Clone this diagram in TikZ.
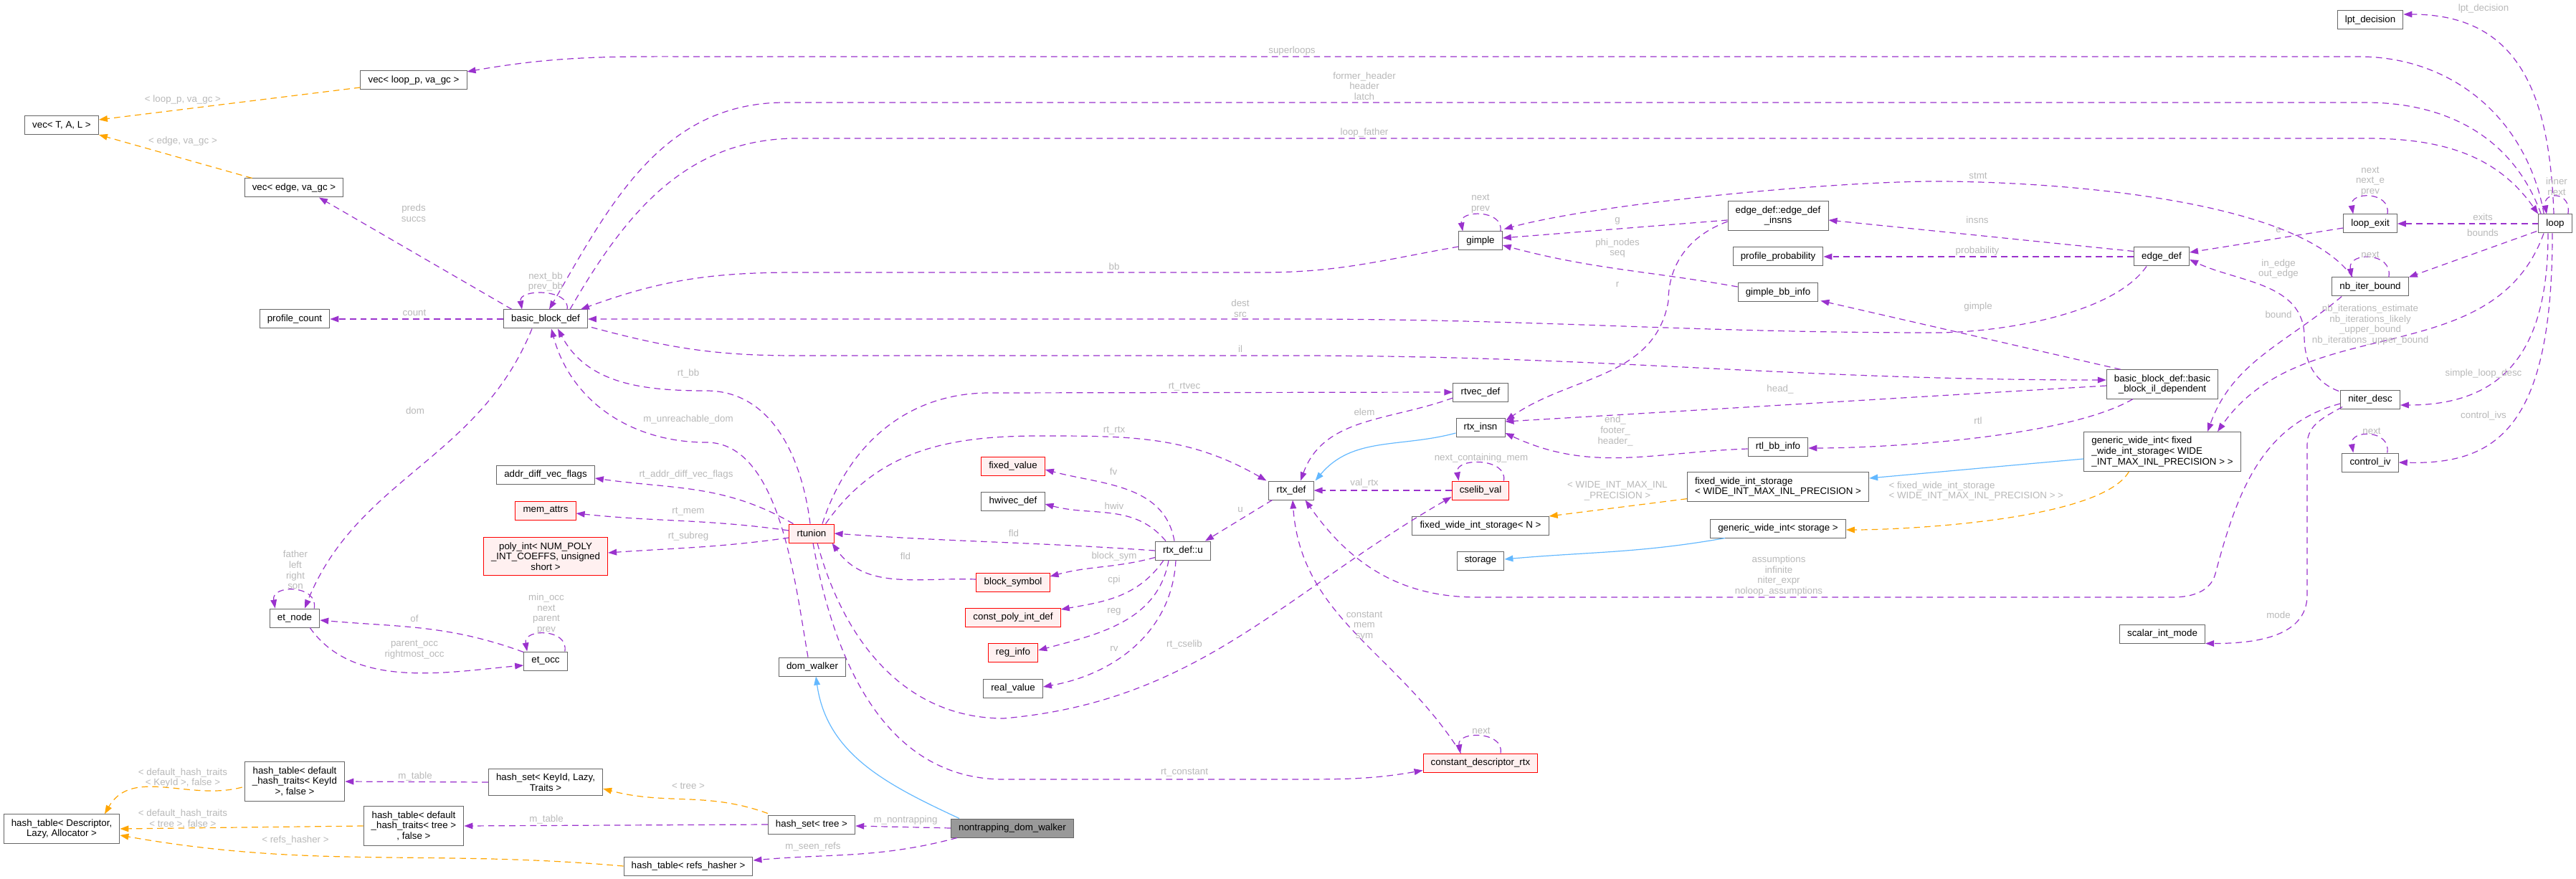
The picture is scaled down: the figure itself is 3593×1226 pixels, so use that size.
\documentclass[tikz,border=0pt]{standalone}
\usepackage{fontspec}
\setmainfont{Liberation Sans}
\usetikzlibrary{arrows.meta, positioning, calc}

\definecolor{memcol}{HTML}{9A32CD}
\definecolor{tplcol}{HTML}{FFA500}
\definecolor{inhcol}{HTML}{63B8FF}
\definecolor{nodegray}{HTML}{666666}
\definecolor{lblgray}{HTML}{B8B8B8}
\definecolor{redfill}{HTML}{FFF0F0}
\definecolor{rootgray}{HTML}{999999}

\begin{document}
\begin{tikzpicture}[x=0.75pt, y=0.75pt,
        cls/.style={draw=nodegray, fill=white, line width=0.75pt, minimum height=19.5pt,
            inner xsep=8pt, inner ysep=5pt, align=center, font=\fontsize{10}{11}\selectfont},
        redcls/.style={cls, draw=red, fill=redfill},
        rootcls/.style={cls, fill=rootgray},
        lbl/.style={text=lblgray, inner sep=0pt, align=center, font=\fontsize{10}{11}\selectfont},
        mem/.style={draw=memcol, line width=0.9pt, dash pattern=on 6.5pt off 4.5pt,
            -{Triangle[length=9pt, width=6.5pt]}},
        tpl/.style={mem, draw=tplcol},
        inh/.style={draw=inhcol, line width=0.9pt, -{Triangle[length=9pt, width=6.5pt]}},
    ]
    \useasboundingbox (0,0) rectangle (3593,-1226);

    % classes
    \node[cls] (vec_TAL) at (86,-175) {vec< T, A, L >};
    \node[cls] (vec_loop) at (577,-112) {vec< loop\_p, va\_gc >};
    \node[cls] (vec_edge) at (410,-262) {vec< edge, va\_gc >};
    \node[cls] (profile_count) at (411,-445) {profile\_count};
    \node[cls] (basic_block_def) at (761,-445) {basic\_block\_def};
    \node[cls] (addr_diff) at (761,-662) {addr\_diff\_vec\_flags};
    \node[redcls] (mem_attrs) at (761,-712) {mem\_attrs};
    \node[redcls] (poly_int) at (761,-776) {poly\_int< NUM\_POLY\\\_INT\_COEFFS, unsigned\\short >};
    \node[cls] (et_node) at (411,-862) {et\_node};
    \node[cls] (et_occ) at (761,-922) {et\_occ};
    \node[cls] (hash_table_Desc) at (86,-1156) {hash\_table< Descriptor,\\Lazy, Allocator >};
    \node[cls] (hash_table_KeyId) at (411,-1090) {hash\_table< default\\\_hash\_traits< KeyId\\>, false >};
    \node[cls] (hash_set_KeyId) at (761,-1091) {hash\_set< KeyId, Lazy,\\Traits >};
    \node[cls] (hash_table_tree) at (577,-1152) {hash\_table< default\\\_hash\_traits< tree >\\, false >};
    \node[cls] (hash_table_refs) at (960,-1208) {hash\_table< refs\_hasher >};
    \node[cls] (dom_walker) at (1133,-930) {dom\_walker};
    \node[cls] (hash_set_tree) at (1132,-1150) {hash\_set< tree >};
    \node[rootcls] (nontrapping) at (1412,-1155) {nontrapping\_dom\_walker};
    \node[redcls] (rtunion) at (1132,-744) {rtunion};
    \node[redcls] (fixed_value) at (1413,-650) {fixed\_value};
    \node[cls] (hwivec_def) at (1413,-699) {hwivec\_def};
    \node[redcls] (block_symbol) at (1413,-812) {block\_symbol};
    \node[redcls] (const_poly) at (1413,-861) {const\_poly\_int\_def};
    \node[redcls] (reg_info) at (1413,-910) {reg\_info};
    \node[cls] (real_value) at (1413,-960) {real\_value};
    \node[cls] (rtx_def_u) at (1650,-768) {rtx\_def::u};
    \node[cls] (rtx_def) at (1801,-684) {rtx\_def};
    \node[cls] (rtvec_def) at (2065,-547) {rtvec\_def};
    \node[cls] (rtx_insn) at (2065,-596) {rtx\_insn};
    \node[redcls] (cselib_val) at (2065,-684) {cselib\_val};
    \node[cls] (fws_N) at (2065,-733) {fixed\_wide\_int\_storage< N >};
    \node[cls] (storage) at (2065,-782) {storage};
    \node[redcls] (constant_descriptor_rtx) at (2065,-1064) {constant\_descriptor\_rtx};
    \node[cls] (gimple) at (2065,-336) {gimple};
    \node[cls] (edge_def_insns) at (2480,-301) {edge\_def::edge\_def\\\_insns};
    \node[cls] (profile_probability) at (2480,-358) {profile\_probability};
    \node[cls] (gimple_bb_info) at (2480,-408) {gimple\_bb\_info};
    \node[cls] (rtl_bb_info) at (2480,-623) {rtl\_bb\_info};
    \node[cls, align=left] (fws_WIDE) at (2480,-679) {fixed\_wide\_int\_storage\\< WIDE\_INT\_MAX\_INL\_PRECISION >};
    \node[cls] (gwi_storage) at (2480,-737) {generic\_wide\_int< storage >};
    \node[cls] (bbil) at (3016,-536) {basic\_block\_def::basic\\\_block\_il\_dependent};
    \node[cls, align=left] (gwi_fixed) at (3016,-630) {generic\_wide\_int< fixed\\\_wide\_int\_storage< WIDE\\\_INT\_MAX\_INL\_PRECISION > >};
    \node[cls] (scalar_int_mode) at (3016,-884) {scalar\_int\_mode};
    \node[cls] (edge_def) at (3015,-358) {edge\_def};
    \node[cls] (lpt_decision) at (3306,-28) {lpt\_decision};
    \node[cls] (loop_exit) at (3306,-312) {loop\_exit};
    \node[cls] (nb_iter_bound) at (3306,-400) {nb\_iter\_bound};
    \node[cls] (niter_desc) at (3306,-557) {niter\_desc};
    \node[cls] (control_iv) at (3306,-645) {control\_iv};
    \node[cls] (loop) at (3564,-312) {loop};

    % loop
    \draw[mem] ($(loop.north west)+(8,0)$) to[out=100,in=0] (3290,-79) -- (1000,-79) to[out=180,in=10] ($(vec_loop.east)+(0,12)$)
        node[lbl, at={(1802,-71)}] (l_superloops) {superloops};
    \draw[mem] ($(loop.north west)+(4,0)$) to[out=110,in=0] (3300,-143) -- (1095,-143) to[out=180,in=60] ($(basic_block_def.north)+(5,0)$)
        node[lbl, at={(1903,-120)}] (l_header) {former\_header\\header\\latch};
    \draw[mem] ($(basic_block_def.north east)+(-25,0)$) to[out=60,in=180] (1112,-193) -- (3300,-193) to[out=0,in=125] (loop.north west)
        node[lbl, at={(1903,-185)}] (l_loopfather) {loop\_father};
    \draw[mem] ($(loop.north)+(-2,0)$) to[out=92,in=0,looseness=1.2] ($(lpt_decision.east)+(0,8)$)
        node[lbl, at={(3464,-12)}] (l_lpt) {lpt\_decision};
    \draw[mem] ($(loop.north east)+(-6,0)$) to[out=80,in=100,looseness=2.8] ($(loop.north)+(-12,0)$)
        node[lbl, at={(3566,-260)}] (l_inner) {inner\\next};
    \draw[mem] (loop.west) -- (loop_exit.east)
        node[lbl, at={(3463,-303)}] (l_exits) {exits};
    \draw[mem] ($(loop.south west)+(-2,3)$) -- (nb_iter_bound.north east)
        node[lbl, at={(3463,-325)}] (l_bounds) {bounds};
    \draw[mem] ($(loop.south)+(-16,0)$) to[out=-110,in=55] ($(gwi_fixed.north)+(77,0)$)
        node[lbl, at={(3306,-453)}] (l_nbiter) {nb\_iterations\_estimate\\nb\_iterations\_likely\\\_upper\_bound\\nb\_iterations\_upper\_bound};
    \draw[mem] ($(loop.south)+(-10,0)$) .. controls (3554,-480) and (3500,-565) .. ($(niter_desc.east)+(0,-8)$)
        node[lbl, at={(3464,-521)}] (l_simple) {simple\_loop\_desc};
    \draw[mem] ($(loop.south)+(-4,0)$) .. controls (3560,-600) and (3480,-648) .. (control_iv.east)
        node[lbl, at={(3464,-580)}] (l_civ) {control\_ivs};

    % loop_exit, nb_iter_bound, niter_desc, control_iv
    \draw[mem] ($(loop_exit.north east)+(-14,0)$) to[out=80,in=100,looseness=1.75] ($(loop_exit.north west)+(14,0)$)
        node[lbl, at={(3306,-253)}] (l_lexit) {next\\next\_e\\prev};
    \draw[mem] ($(loop_exit.west)+(0,-6)$) -- ($(edge_def.east)+(0,6)$)
        node[lbl, at={(3178,-321)}] (l_e) {e};
    \draw[mem] ($(nb_iter_bound.north east)+(-28,0)$) to[out=80,in=100,looseness=1.8] ($(nb_iter_bound.north west)+(28,0)$)
        node[lbl, at={(3306,-355)}] (l_nbnext) {next};
    \draw[mem] ($(nb_iter_bound.north west)+(29,0)$) to[out=125,in=0,looseness=0.6] (2700,-253) to[out=180,in=15,looseness=0.6] ($(gimple.north east)+(2,3)$)
        node[lbl, at={(2759,-245)}] (l_stmt) {stmt};
    \draw[mem] ($(nb_iter_bound.south west)+(14,0)$) to[out=-140,in=70] ($(gwi_fixed.north)+(63,0)$)
        node[lbl, at={(3178,-439)}] (l_bound) {bound};
    \draw[mem] ($(niter_desc.north west)+(-2,-2)$) to[out=160,in=-90] (3214,-470) to[out=90,in=-25] ($(edge_def.east)+(0,-4)$)
        node[lbl, at={(3178,-375)}] (l_inedge) {in\_edge\\out\_edge};
    \draw[mem] ($(niter_desc.west)+(0,-6)$) to[out=195,in=75] (3090,-800) to[out=-105,in=0] (3030,-833) -- (2060,-833) to[out=180,in=-55] ($(rtx_def.south east)+(-12,0)$)
        node[lbl, at={(2481,-803)}] (l_assum) {assumptions\\infinite\\niter\_expr\\noloop\_assumptions};
    \draw[mem] ($(niter_desc.south west)+(3,3)$) to[out=210,in=90] (3218,-620) -- (3218,-830) to[out=-90,in=0] (scalar_int_mode.south east)
        node[lbl, at={(3178,-858)}] (l_mode) {mode};
    \draw[mem] ($(control_iv.north east)+(-16,0)$) to[out=80,in=100,looseness=1.8] ($(control_iv.north west)+(16,0)$)
        node[lbl, at={(3308,-601)}] (l_civnext) {next};

    % edge_def
    \draw[mem] ($(edge_def.north west)+(0,-6)$) -- ($(edge_def_insns.east)+(0,-6)$)
        node[lbl, at={(2758,-307)}] (l_insns) {insns};
    \draw[mem] (edge_def.west) -- (profile_probability.east)
        node[lbl, at={(2758,-350)}] (l_prob) {probability};
    \draw[mem] ($(edge_def.south west)+(18,0)$) to[out=-125,in=0,looseness=0.7] (2700,-464) to[out=180,in=0] (1800,-445) -- (basic_block_def.east)
        node[lbl, at={(1730,-430)}] (l_dest) {dest\\src};

    % gimple and friends
    \draw[mem] ($(gimple.north east)+(-3,0)$) to[out=80,in=100,looseness=1.5] ($(gimple.north west)+(6,0)$)
        node[lbl, at={(2065,-284)}] (l_gnext) {next\\prev};
    \draw[mem] ($(gimple.west)+(0,-8)$) to[out=190,in=0] (1760,-380) -- (1110,-380) to[out=180,in=20] ($(basic_block_def.north east)+(-10,0)$)
        node[lbl, at={(1554,-372)}] (l_bb) {bb};
    \draw[mem] ($(edge_def_insns.west)+(0,-6)$) -- ($(gimple.east)+(0,4)$)
        node[lbl, at={(2256,-308)}] (l_g) {g};
    \draw[mem] ($(edge_def_insns.west)+(0,-8)$) to[out=200,in=90] (2327,-420) to[out=-100,in=35] ($(rtx_insn.north east)+(1,-4)$)
        node[lbl, at={(2256,-397)}] (l_r) {r};
    \draw[mem] ($(gimple_bb_info.west)+(0,8)$) to[out=170,in=-15] ($(gimple.east)+(0,-6)$)
        node[lbl, at={(2256,-346)}] (l_phi) {phi\_nodes\\seq};

    % basic_block_def::basic_block_il_dependent
    \draw[mem] ($(bbil.north west)+(20,0)$) -- ($(gimple_bb_info.south east)+(3,2)$)
        node[lbl, at={(2759,-428)}] (l_gimple) {gimple};
    \draw[mem] ($(bbil.west)+(0,-2)$) -- ($(rtx_insn.east)+(0,8)$)
        node[lbl, at={(2483,-543)}] (l_head) {head\_};
    \draw[mem] ($(bbil.south west)+(37,0)$) to[out=-150,in=0,looseness=0.6] ($(rtl_bb_info.east)+(0,-2)$)
        node[lbl, at={(2759,-587)}] (l_rtl) {rtl};
    \draw[mem] ($(rtl_bb_info.west)+(0,-3)$) to[out=182,in=-25] ($(rtx_insn.east)+(0,-8)$)
        node[lbl, at={(2253,-601)}] (l_end) {end\_\\footer\_\\header\_};

    % basic_block_def
    \draw[mem] ($(basic_block_def.south east)+(5,2)$) to[out=-15,in=180] (1110,-496) -- (1800,-496) to[out=0,in=180] ($(bbil.west)+(0,6)$)
        node[lbl, at={(1730,-487)}] (l_il) {il};
    \draw[mem] ($(basic_block_def.north)+(30,0)$) to[out=80,in=100,looseness=1.2] ($(basic_block_def.north west)+(26,0)$)
        node[lbl, at={(761,-393)}] (l_nextbb) {next\_bb\\prev\_bb};
    \draw[mem] ($(basic_block_def.north west)+(12,0)$) -- ($(vec_edge.south)+(35,0)$)
        node[lbl, at={(577,-297)}] (l_preds) {preds\\succs};
    \draw[mem] (basic_block_def.west) -- (profile_count.east)
        node[lbl, at={(578,-436)}] (l_count) {count};
    \draw[mem] ($(basic_block_def.south west)+(40,0)$) to[out=-112,in=68] ($(et_node.north)+(14,0)$)
        node[lbl, at={(579,-573)}] (l_dom) {dom};

    % et_node, et_occ
    \draw[mem] ($(et_node.north east)+(-8,0)$) to[out=80,in=100,looseness=1.6] ($(et_node.north west)+(8,0)$)
        node[lbl, at={(412,-795)}] (l_father) {father\\left\\right\\son};
    \draw[mem] ($(et_node.south east)+(-14,0)$) to[out=-55,in=185,looseness=0.9] ($(et_occ.west)+(0,-6)$)
        node[lbl, at={(578,-906)}] (l_parent) {parent\_occ\\rightmost\_occ};
    \draw[mem] ($(et_occ.north west)+(0,-1)$) to[out=160,in=-5] ($(et_node.east)+(0,-3)$)
        node[lbl, at={(578,-863)}] (l_of) {of};
    \draw[mem] ($(et_occ.north east)+(-4,0)$) to[out=80,in=100,looseness=1.6] ($(et_occ.north west)+(5,0)$)
        node[lbl, at={(762,-856)}] (l_minocc) {min\_occ\\next\\parent\\prev};

    % rtx_def
    \draw[mem] ($(rtvec_def.west)+(0,-8)$) to[out=200,in=70] ($(rtx_def.north)+(13,0)$)
        node[lbl, at={(1903,-575)}] (l_elem) {elem};
    \draw[mem] (cselib_val.west) -- (rtx_def.east)
        node[lbl, at={(1903,-674)}] (l_valrtx) {val\_rtx};
    \draw[mem] ($(cselib_val.north east)+(-8,0)$) to[out=80,in=100,looseness=1.35] ($(cselib_val.north west)+(10,0)$)
        node[lbl, at={(2066,-639)}] (l_ncm) {next\_containing\_mem};
    \draw[mem] ($(rtx_def.south west)+(5,0)$) -- ($(rtx_def_u.north east)+(-8,0)$)
        node[lbl, at={(1730,-711)}] (l_u) {u};

    % rtx_def::u
    \draw[mem] ($(rtx_def_u.north)+(-12,0)$) to[out=100,in=-15] ($(fixed_value.east)+(0,-5)$)
        node[lbl, at={(1553,-658)}] (l_fv) {fv};
    \draw[mem] ($(rtx_def_u.north)+(-24,0)$) to[out=130,in=-15] ($(hwivec_def.east)+(0,-4)$)
        node[lbl, at={(1554,-706)}] (l_hwiv) {hwiv};
    \draw[mem] (rtx_def_u.west) to[out=176,in=-4] (rtunion.east)
        node[lbl, at={(1414,-744)}] (l_fld1) {fld};
    \draw[mem] ($(rtx_def_u.south west)+(0,4)$) to[out=195,in=15] ($(block_symbol.east)+(0,8)$)
        node[lbl, at={(1554,-776)}] (l_bsym) {block\_sym};
    \draw[mem] ($(rtx_def_u.south)+(-27,0)$) to[out=-125,in=10] ($(const_poly.east)+(0,11)$)
        node[lbl, at={(1554,-809)}] (l_cpi) {cpi};
    \draw[mem] ($(rtx_def_u.south)+(-20,0)$) to[out=-100,in=15] ($(reg_info.east)+(0,3)$)
        node[lbl, at={(1554,-853)}] (l_reg) {reg};
    \draw[mem] ($(rtx_def_u.south)+(-10,0)$) to[out=-93,in=10] ($(real_value.east)+(0,2)$)
        node[lbl, at={(1554,-905)}] (l_rv) {rv};
    \draw[mem] ($(block_symbol.west)+(0,4)$) to[out=178,in=-55] ($(rtunion.south east)+(-3,0)$)
        node[lbl, at={(1263,-776)}] (l_fld2) {fld};

    % rtunion
    \draw[mem] ($(rtunion.north)+(-2,0)$) to[out=97,in=0] (985,-545) to[out=180,in=-62] ($(basic_block_def.south)+(17,0)$)
        node[lbl, at={(960,-521)}] (l_rtbb) {rt\_bb};
    \draw[mem] ($(rtunion.north)+(15,0)$) to[out=72,in=180] (1380,-548) -- (rtvec_def.west)
        node[lbl, at={(1652,-540)}] (l_rtvec) {rt\_rtvec};
    \draw[mem] ($(rtunion.north east)+(-12,0)$) to[out=55,in=180] (1450,-608) to[out=0,in=150] ($(rtx_def.north west)+(-3,0)$)
        node[lbl, at={(1554,-601)}] (l_rtrtx) {rt\_rtx};
    \draw[mem] ($(rtunion.north west)+(6,0)$) to[out=150,in=-8] ($(addr_diff.east)+(0,-5)$)
        node[lbl, at={(957,-662)}] (l_rtadv) {rt\_addr\_diff\_vec\_flags};
    \draw[mem] ($(rtunion.west)+(0,4)$) to[out=172,in=-6] ($(mem_attrs.east)+(0,-4)$)
        node[lbl, at={(960,-714)}] (l_rtmem) {rt\_mem};
    \draw[mem] ($(rtunion.west)+(0,-6)$) to[out=188,in=4] ($(poly_int.east)+(0,5)$)
        node[lbl, at={(960,-748)}] (l_subreg) {rt\_subreg};
    \draw[mem] ($(rtunion.south)+(8,0)$) to[out=-75,in=180] (1400,-1002) to[out=5,in=210] ($(cselib_val.west)+(0,-9)$)
        node[lbl, at={(1652,-899)}] (l_cselib) {rt\_cselib};
    \draw[mem] ($(rtunion.south)+(2,0)$) to[out=-80,in=180] (1400,-1087) -- (1800,-1087) to[out=0,in=190] ($(constant_descriptor_rtx.south west)+(0,3)$)
        node[lbl, at={(1652,-1078)}] (l_rtconst) {rt\_constant};

    % constant_descriptor_rtx
    \draw[mem] ($(constant_descriptor_rtx.north west)+(53,0)$) to[out=122,in=-86] ($(rtx_def.south)+(2,0)$)
        node[lbl, at={(1903,-873)}] (l_cms) {constant\\mem\\sym};
    \draw[mem] ($(constant_descriptor_rtx.north)+(28,0)$) to[out=80,in=100,looseness=1.45] ($(constant_descriptor_rtx.north)+(-28,0)$)
        node[lbl, at={(2066,-1019)}] (l_cdrnext) {next};

    % walkers and hash tables
    \draw[mem] ($(dom_walker.north)+(-6,0)$) to[out=100,in=0,looseness=0.8] (985,-617) to[out=180,in=-75] ($(basic_block_def.south)+(8,0)$)
        node[lbl, at={(960,-585)}] (l_munr) {m\_unreachable\_dom};
    \draw[mem] (nontrapping.west) -- ($(hash_set_tree.east)+(0,-2)$)
        node[lbl, at={(1263,-1144)}] (l_mnon) {m\_nontrapping};
    \draw[mem] ($(nontrapping.south west)+(9,0)$) to[out=195,in=5] ($(hash_table_refs.east)+(0,8)$)
        node[lbl, at={(1134,-1181)}] (l_mseen) {m\_seen\_refs};
    \draw[mem] (hash_set_tree.west) -- (hash_table_tree.east)
        node[lbl, at={(762,-1143)}] (l_mtable2) {m\_table};
    \draw[mem] (hash_set_KeyId.west) -- (hash_table_KeyId.east)
        node[lbl, at={(579,-1083)}] (l_mtable1) {m\_table};

    % template instances
    \draw[tpl] ($(vec_loop.west)+(0,-10)$) -- ($(vec_TAL.east)+(0,8)$)
        node[lbl, at={(255,-139)}] (l_tplloop) {< loop\_p, va\_gc >};
    \draw[tpl] ($(vec_edge.north west)+(11,0)$) -- ($(vec_TAL.east)+(0,-13)$)
        node[lbl, at={(255,-197)}] (l_tpledge) {< edge, va\_gc >};
    \draw[tpl] ($(hash_table_KeyId.west)+(-3,-8)$) to[out=195,in=60] ($(hash_table_Desc.north)+(60,0)$)
        node[lbl, at={(255,-1085)}] (l_tplkey) {< default\_hash\_traits\\< KeyId >, false >};
    \draw[tpl] (hash_table_tree.west) -- (hash_table_Desc.east)
        node[lbl, at={(255,-1142)}] (l_tpltr) {< default\_hash\_traits\\< tree >, false >};
    \draw[tpl] (hash_table_refs.west) to[out=175,in=-10] ($(hash_table_Desc.east)+(0,-9)$)
        node[lbl, at={(412,-1172)}] (l_tplrefs) {< refs\_hasher >};
    \draw[tpl] ($(hash_set_tree.north west)+(0,2)$) to[out=160,in=-15] ($(hash_set_KeyId.east)+(0,-9)$)
        node[lbl, at={(960,-1096)}] (l_tpltree) {< tree >};
    \draw[tpl] ($(fws_WIDE.south west)+(0,4)$) -- ($(fws_N.east)+(0,13)$)
        node[lbl, at={(2256,-685)}] (l_tplN) {< WIDE\_INT\_MAX\_INL\\\_PRECISION >};
    \draw[tpl] ($(gwi_fixed.south west)+(63,0)$) to[out=-120,in=0,looseness=0.5] ($(gwi_storage.east)+(0,-2)$)
        node[lbl, align=left, anchor=west, at={(2634,-685)}] (l_tplgwi) {< fixed\_wide\_int\_storage\\< WIDE\_INT\_MAX\_INL\_PRECISION > >};

    % inheritance
    \draw[inh] ($(nontrapping.north west)+(12,0)$) to[out=155,in=-82] ($(dom_walker.south)+(5,0)$);
    \draw[inh] ($(rtx_insn.west)+(0,-8)$) to[out=195,in=50] ($(rtx_def.north east)+(2,0)$);
    \draw[inh] ($(gwi_fixed.west)+(0,-10)$) -- ($(fws_WIDE.east)+(0,12)$);
    \draw[inh] ($(gwi_storage.south west)+(21,0)$) to[out=190,in=5] ($(storage.east)+(0,2)$);
\end{tikzpicture}
\end{document}
